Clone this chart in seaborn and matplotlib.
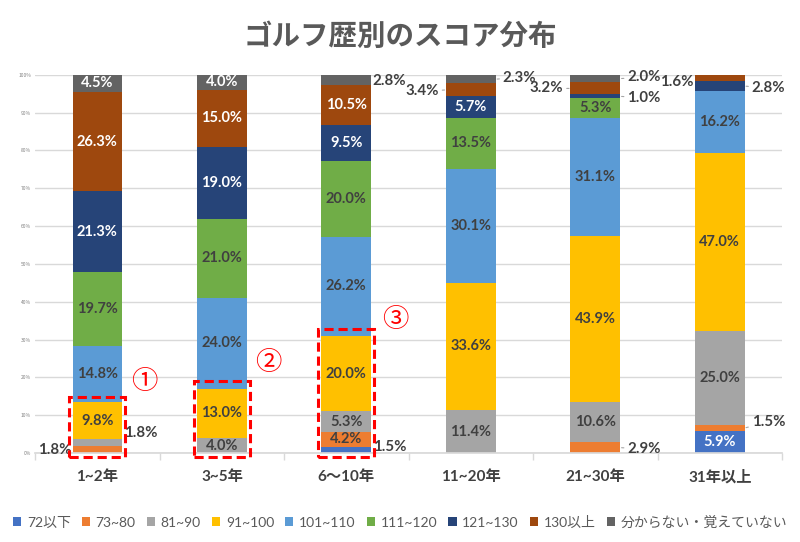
import numpy as np
import pandas as pd
import matplotlib.pyplot as plt
import seaborn as sns
from matplotlib.patches import Rectangle

# --- データ ---
categories = ['1~2年', '3~5年', '6〜10年', '11~20年', '21~30年', '31年以上']
series = ['72以下', '73~80', '81~90', '91~100', '101~110', '111~120', '121~130', '130以上', '分からない・覚えていない']

v_72 = [0.0, 0.0, 1.5, 0.0, 0.0, 5.9]
v_73_80 = [1.8, 0.0, 4.2, 0.0, 2.9, 1.5]
v_81_90 = [1.8, 4.0, 5.3, 11.4, 10.6, 25.0]
v_91_100 = [9.8, 13.0, 20.0, 33.6, 43.9, 47.0]
v_101_110 = [14.8, 24.0, 26.2, 30.1, 31.1, 16.2]
v_111_120 = [19.7, 21.0, 20.0, 13.5, 5.3, 0.0]
v_121_130 = [21.3, 19.0, 9.5, 5.7, 1.0, 2.8]
v_130 = [26.3, 15.0, 10.5, 3.4, 3.2, 1.6]
v_unknown = [4.5, 4.0, 2.8, 2.3, 2.0, 0.0]

values = [v_72, v_73_80, v_81_90, v_91_100, v_101_110, v_111_120, v_121_130, v_130, v_unknown]
colors = ['#4472C4', '#ED7D31', '#A5A5A5', '#FFC000', '#5B9BD5', '#70AD47', '#264478', '#9E480E', '#636363']
label_colors = ['white', '#404040', '#404040', '#404040', '#404040', '#404040', 'white', 'white', 'white']

# 小さい値のラベル: (カテゴリ, 系列) -> (側, 縦オフセットpt, 引き出し線)
outside = {
    (0, 1): ('left', 0, False),
    (0, 2): ('right', 7, False),
    (2, 0): ('right', 2, False),
    (2, 8): ('right', -1, False),
    (3, 7): ('left', -1, True),
    (3, 8): ('right', 1, True),
    (4, 7): ('left', 0, True),
    (4, 8): ('right', 1, True),
    (4, 6): ('right', -1, True),
    (4, 1): ('right', -1, True),
    (5, 7): ('left', -3, False),
    (5, 6): ('right', -1, True),
    (5, 1): ('right', 4, True),
}

# 赤枠 (カテゴリ, 枠の上端%) と丸数字の位置 (x, y%)
boxes = [(0, 14.8), (1, 19.0), (2, 32.8)]
marks = [(0.38, 18.8), (1.37, 24.0), (2.39, 35.2)]

sns.set_theme(style='white')
plt.rcParams['font.family'] = ['Noto Sans CJK JP', 'DejaVu Sans']
num_font = ['Lato', 'Noto Sans CJK JP']

fig = plt.figure(figsize=(8, 5.42), dpi=100)
ax = fig.add_axes([0.044, 0.164, 0.9335, 0.698])

arr = np.array(values)
cum = np.cumsum(arr, axis=0)
bar_w = 0.4

# 上の系列から累積値で重ね描き
for i in range(len(series) - 1, -1, -1):
    df = pd.DataFrame({'cat': categories, 'val': cum[i]})
    sns.barplot(data=df, x='cat', y='val', order=categories, color=colors[i],
                width=bar_w, saturation=1, ax=ax, label=series[i], linewidth=0)

# データラベル
for i in range(len(series)):
    for j in range(len(categories)):
        v = arr[i, j]
        if v <= 0:
            continue
        yc = cum[i, j] - v / 2
        txt = f'{v:.1f}%'
        if (j, i) in outside:
            side, dy, lead = outside[(j, i)]
            if side == 'left':
                xe = j - bar_w / 2
                dx, ha = (-5 if lead else -1), 'right'
            else:
                xe = j + bar_w / 2
                dx, ha = (5 if lead else 1), 'left'
            ax.annotate(txt, xy=(xe, yc), xytext=(dx, dy), textcoords='offset points',
                        ha=ha, va='center', fontsize=10.8, fontweight='bold', color='#404040',
                        family=num_font,
                        arrowprops=dict(arrowstyle='-', color='#A6A6A6', lw=0.8,
                                        shrinkA=0, shrinkB=1) if lead else None,
                        annotation_clip=False)
        else:
            ax.text(j, yc, txt, ha='center', va='center', fontsize=10.5,
                    fontweight='bold', color=label_colors[i], family=num_font)

for (j, top), (mx, my), ch in zip(boxes, marks, '①②③'):
    ax.add_patch(Rectangle((j - 0.225, -1.0), 0.45, top + 1.0, fill=False, edgecolor='#FF0000',
                           linewidth=2.2, linestyle=(0, (3, 1.6)), clip_on=False, zorder=5))
    ax.text(mx, my, ch, ha='center', va='center', fontsize=19, color='#FF0000', zorder=6)

ax.set_xlim(-0.5, 5.5)
ax.set_ylim(0, 100)
ax.set_yticks(np.arange(0, 101, 10))
ax.set_yticklabels([f'{t}%' for t in range(0, 101, 10)], fontsize=3.5, color='#808080')
ax.yaxis.grid(True, color='#D9D9D9', linewidth=1)
ax.set_axisbelow(True)
ax.set_xlabel('')
ax.set_ylabel('')
ax.tick_params(axis='x', length=0, labelsize=11, labelcolor='#404040', pad=12)
ax.tick_params(axis='y', length=0, pad=3)
for lab in ax.get_xticklabels():
    lab.set_fontweight('bold')
    lab.set_family(num_font)
ax.set_xticks(np.arange(-0.5, 6, 1), minor=True)
ax.tick_params(axis='x', which='minor', length=5, color='#D9D9D9', width=1, bottom=True)
for s in ['top', 'right', 'left']:
    ax.spines[s].set_visible(False)
ax.spines['bottom'].set_color('#D9D9D9')

fig.text(0.5, 0.932, 'ゴルフ歴別のスコア分布', ha='center', va='center', fontsize=20.5,
         fontweight='bold', color='#595959')

handles, labels = ax.get_legend_handles_labels()
order = [labels.index(s) for s in series]
fig.legend([handles[k] for k in order], series, loc='center', bbox_to_anchor=(0.5, 0.037),
           ncol=9, frameon=False, prop={'family': num_font, 'size': 10},
           handlelength=0.6, handleheight=0.6, handletextpad=0.4, columnspacing=0.8,
           labelcolor='#595959')
if ax.get_legend() is not None:
    ax.get_legend().remove()

plt.savefig('out.png', dpi=100)
